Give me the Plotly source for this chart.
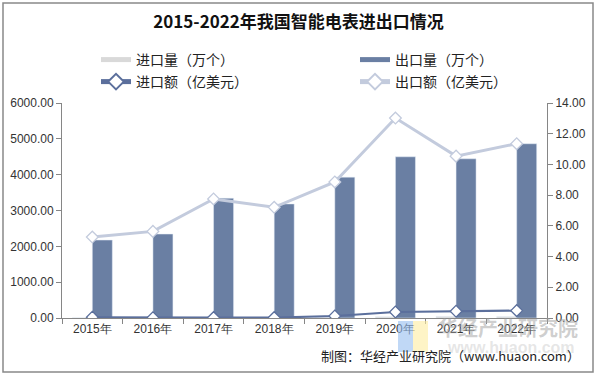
import plotly.graph_objects as go

years = ["2015年", "2016年", "2017年", "2018年", "2019年", "2020年", "2021年", "2022年"]
import_qty = [8, 5, 6, 5, 12, 35, 45, 40]            # 进口量（万个）
export_qty = [2175, 2343, 3343, 3183, 3931, 4499, 4443, 4863]  # 出口量（万个）
import_val = [0.05, 0.02, 0.03, 0.03, 0.13, 0.39, 0.44, 0.48]  # 进口额（亿美元）
export_val = [5.27, 5.64, 7.75, 7.21, 8.86, 13.02, 10.54, 11.35]  # 出口额（亿美元）

W, H = 597, 376
L, R, T, B = 62, 50, 103, 58
pw, ph = W - L - R, H - T - B

def px(x):
    return (x - L) / pw

def py(y):
    return (H - B - y) / ph

font_tick = dict(family="Liberation Sans, Arial, sans-serif", size=12, color="#333333")
cjk = "Noto Sans CJK SC, sans-serif"
c_imp_q, c_exp_q, c_imp_v, c_exp_v = "#d9d9d9", "#6a7fa3", "#5b6f9c", "#c3cbdd"

fig = go.Figure()
fig.add_trace(go.Bar(x=years, y=import_qty, name="进口量（万个）", marker_color=c_imp_q,
                     showlegend=False, legendgroup="iq"))
fig.add_trace(go.Bar(x=years, y=export_qty, name="出口量（万个）", marker_color=c_exp_q,
                     showlegend=False, legendgroup="eq"))
fig.add_trace(go.Scatter(x=years, y=import_val, name="进口额（亿美元）", yaxis="y2", mode="lines+markers",
                         line=dict(color=c_imp_v, width=2.2), legend="legend3",
                         marker=dict(symbol="diamond", size=9, color="white", line=dict(color=c_imp_v, width=1.3))))
fig.add_trace(go.Scatter(x=years, y=export_val, name="出口额（亿美元）", yaxis="y2", mode="lines+markers",
                         line=dict(color=c_exp_v, width=3), legend="legend4",
                         marker=dict(symbol="diamond", size=9, color="white", line=dict(color=c_exp_v, width=1.3))))
# legend-only entries for the bar series (wide bar swatches like the reference)
fig.add_trace(go.Scatter(x=[None], y=[None], name="进口量（万个）", mode="lines", legendgroup="iq",
                         line=dict(color=c_imp_q, width=6), legend="legend"))
fig.add_trace(go.Scatter(x=[None], y=[None], name="出口量（万个）", mode="lines", legendgroup="eq",
                         line=dict(color=c_exp_q, width=6), legend="legend2"))

shapes = [
    dict(type="rect", xref="paper", yref="paper", x0=px(3), x1=px(593), y0=py(372), y1=py(3),
         line=dict(color="#898989", width=1.5), fillcolor="rgba(0,0,0,0)", layer="below"),
    dict(type="rect", xref="paper", yref="paper", x0=px(398), x1=px(413), y0=py(352), y1=py(321),
         line=dict(width=0), fillcolor="rgba(150,190,240,0.6)", layer="above"),
    dict(type="rect", xref="paper", yref="paper", x0=px(413), x1=px(428), y0=py(352), y1=py(321),
         line=dict(width=0), fillcolor="rgba(253,236,160,0.6)", layer="above"),
]

annotations = [
    dict(text="<b>华经产业研究院</b>", xref="paper", yref="paper", x=px(580), y=py(327), xanchor="right", yanchor="middle",
         showarrow=False, font=dict(family=cjk, size=20, color="rgba(160,160,160,0.5)")),
    dict(text="<b>www.huaon.com</b>", xref="paper", yref="paper", x=px(577), y=py(347), xanchor="right", yanchor="middle",
         showarrow=False, font=dict(family="Liberation Sans, sans-serif", size=16, color="rgba(200,200,200,0.45)")),
    dict(text="制图：华经产业研究院（www.huaon.com）", xref="paper", yref="paper", x=px(582), y=py(355),
         xanchor="right", yanchor="middle", showarrow=False,
         font=dict(family=cjk, size=13, color="#222222")),
]

def leg(xp, yp):
    return dict(orientation="h", x=px(xp), xanchor="left", y=py(yp), yanchor="middle",
                font=dict(family=cjk, size=14, color="#222222"), bgcolor="rgba(0,0,0,0)",
                itemsizing="constant", itemwidth=30)

fig.update_layout(
    width=W, height=H,
    margin=dict(l=L, r=R, t=T, b=B, autoexpand=False),
    paper_bgcolor="white", plot_bgcolor="white",
    title=dict(text="<b>2015-2022年我国智能电表进出口情况</b>", x=0.5, xanchor="center", y=1 - 22 / H, yanchor="middle",
               font=dict(family=cjk, size=17, color="#111111")),
    barmode="group", bargap=0.34, bargroupgap=0,
    showlegend=True,
    legend=leg(96, 60), legend2=leg(355, 60), legend3=leg(96, 82), legend4=leg(355, 82),
    xaxis=dict(showline=True, linecolor="#868686", ticks="outside", tickson="boundaries", ticklen=5,
               tickcolor="#868686", tickfont=font_tick, showgrid=False),
    yaxis=dict(range=[0, 6000], dtick=1000, tickformat=".2f", showline=True, linecolor="#868686",
               ticks="outside", ticklen=5, tickcolor="#868686", tickfont=font_tick, showgrid=False, zeroline=False),
    yaxis2=dict(range=[0, 14], dtick=2, tickformat=".2f", overlaying="y", side="right", showline=True,
                linecolor="#868686", ticks="outside", ticklen=5, tickcolor="#868686", tickfont=font_tick,
                showgrid=False, zeroline=False),
    shapes=shapes, annotations=annotations,
)

fig.write_html("out.html", config={"displayModeBar": False},
               post_script="document.body.style.margin='0';document.body.style.overflow='hidden';")
